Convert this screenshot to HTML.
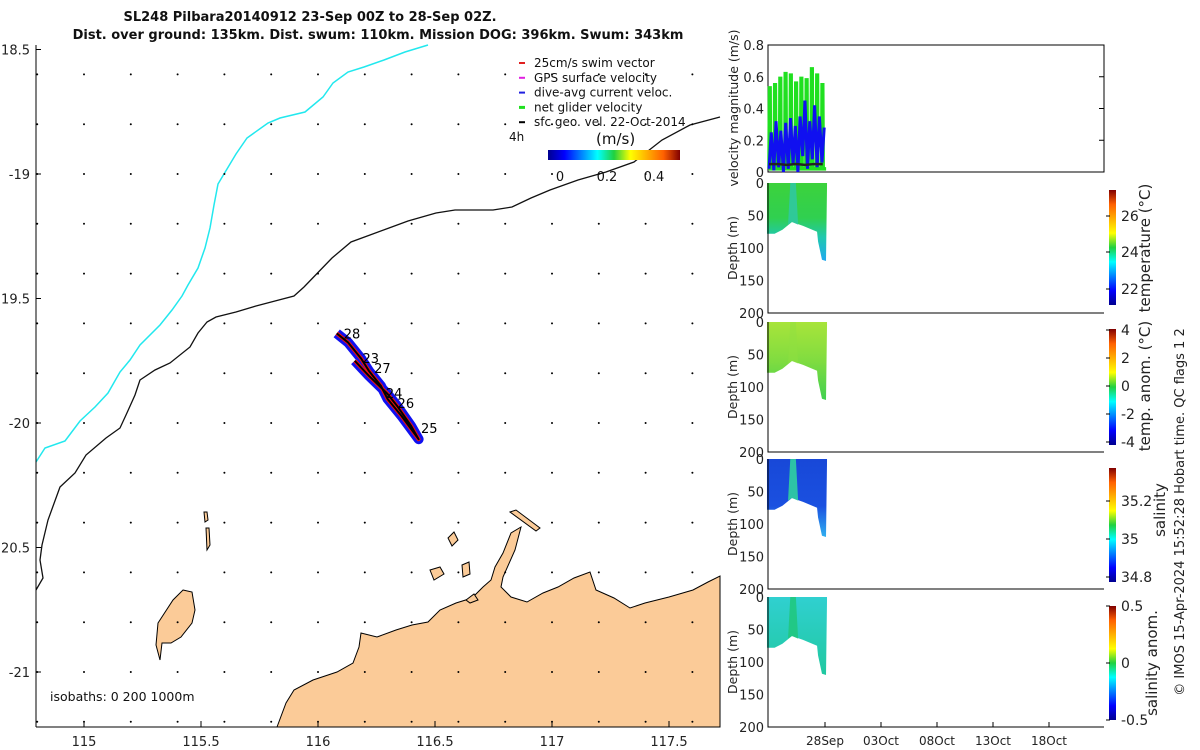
<!DOCTYPE html>
<html><head><meta charset="utf-8"><style>
html,body{margin:0;padding:0;background:#fff;}
svg{display:block;font-family:"DejaVu Sans","Liberation Sans",sans-serif;}
</style></head><body>
<svg id="fig" width="1200" height="750" viewBox="0 0 1200 750" xmlns="http://www.w3.org/2000/svg">
<defs>
<linearGradient id="jetV" x1="0" y1="1" x2="0" y2="0">
<stop offset="0" stop-color="#00008f"/><stop offset="0.125" stop-color="#0000ff"/><stop offset="0.375" stop-color="#00ffff"/><stop offset="0.5" stop-color="#20d040"/><stop offset="0.625" stop-color="#ffff00"/><stop offset="0.875" stop-color="#ff6000"/><stop offset="1" stop-color="#800000"/></linearGradient>
<linearGradient id="jetH" x1="0" y1="0" x2="1" y2="0">
<stop offset="0" stop-color="#00008f"/><stop offset="0.125" stop-color="#0000ff"/><stop offset="0.375" stop-color="#00ffff"/><stop offset="0.5" stop-color="#20d040"/><stop offset="0.625" stop-color="#ffff00"/><stop offset="0.875" stop-color="#ff6000"/><stop offset="1" stop-color="#800000"/></linearGradient>
<linearGradient id="gT" x1="0" y1="0" x2="0" y2="1"><stop offset="0" stop-color="#3cd23c"/><stop offset="0.45" stop-color="#30d050"/><stop offset="0.7" stop-color="#20c8b0"/><stop offset="1" stop-color="#20a8f0"/></linearGradient>
<linearGradient id="gTA" x1="0" y1="0" x2="0" y2="1"><stop offset="0" stop-color="#a8e43a"/><stop offset="0.5" stop-color="#80dc40"/><stop offset="1" stop-color="#40d050"/></linearGradient>
<linearGradient id="gS" x1="0" y1="0" x2="0" y2="1"><stop offset="0" stop-color="#1848d8"/><stop offset="0.6" stop-color="#1a50e0"/><stop offset="1" stop-color="#30b0f0"/></linearGradient>
<linearGradient id="gSA" x1="0" y1="0" x2="0" y2="1"><stop offset="0" stop-color="#30d0d0"/><stop offset="1" stop-color="#20c8a0"/></linearGradient>
</defs>
<g id="map"></g>
<g id="right"></g>
</svg>
<script>
// ---------- data ----------
const trackLon = [116.08,116.129,116.185,116.217,116.269,116.297,116.357,116.43,116.398,116.337,116.297,116.217,116.157];
const trackLat = [-19.64,-19.677,-19.742,-19.79,-19.851,-19.903,-19.972,-20.065,-20.012,-19.93,-19.883,-19.81,-19.75];
const dayLabels = ["28","23","27","24","26","25"];
const dayLabelLon = [116.11,116.19,116.24,116.29,116.34,116.44];
const dayLabelLat = [-19.66,-19.76,-19.8,-19.9,-19.94,-20.04];
const latTicks = [-18.5,-19,-19.5,-20,-20.5,-21];
const latTickLabels = ["18.5","-19","19.5","-20","20.5","-21"];
const lonTicks = [115,115.5,116,116.5,117,117.5];
const lonTickLabels = ["115","115.5","116","116.5","117","117.5"];
const netVelPeaks = [0.53,0.55,0.59,0.62,0.61,0.56,0.59,0.58,0.65,0.61,0.55];
const currentPeaks = [0.25,0.32,0.26,0.31,0.34,0.29,0.35,0.45,0.32,0.42,0.35,0.28];
const currentTroughs = [0.02,0.01,0.03,0.0,0.02,0.05,0.0,0.1,0.02,0.08,0.03,0.06];
const geoVel = [0.05,0.05,0.045,0.05,0.045,0.05,0.05];
const velTicks = [0,0.2,0.4,0.6,0.8];
const depthTicks = [0,50,100,150,200];
const dateTicks = [5,10,15,20,25];
const dateTickLabels = ["28Sep","03Oct","08Oct","13Oct","18Oct"];
const sectionDays = [-0.18,0.5,1.2,2.05,3.04,4.29,4.38,4.73,5.09,5.18];
const sectionBottom = [78,78,72,60,66,75,90,118,120,5];

const NS="http://www.w3.org/2000/svg";
function el(tag,attrs,parent){const e=document.createElementNS(NS,tag);for(const k in attrs)e.setAttribute(k,attrs[k]);parent.appendChild(e);return e;}
const map=document.getElementById('map'), right=document.getElementById('right'), fig=document.getElementById('fig');
const lonX=l=>84+(l-115)*234;
const latY=l=>423-(l+20)*249;

// title
let t=el('text',{x:310,y:21,'text-anchor':'middle','font-size':13,'font-weight':'bold',fill:'#111'},fig);
t.textContent="SL248 Pilbara20140912 23-Sep 00Z to 28-Sep 02Z.";

t=el('text',{x:378,y:39,'text-anchor':'middle','font-size':13,'font-weight':'bold',fill:'#111'},fig);
t.textContent="Dist. over ground: 135km. Dist. swum: 110km. Mission DOG: 396km. Swum: 343km";


// land
const landPts="277,727 286,703 294,690 313,680 337,672 353,663 359,647 361,633 377,637 396,630 412,625 428,622 440,610 456,603 472,598 483,587 491,580 495,567 503,553 511,533 521,527 515,550 503,577 501,587 511,597 527,602 543,593 558,587 574,578 590,572 596,590 614,598 630,608 645,603 669,597 693,590 708,582 720,576 720,727";
let p=el('polygon',{points:landPts,fill:'#fbcb98',stroke:'#000','stroke-width':1},map);

p=el('polygon',{points:"183,590 192,592 195,610 192,623 181,637 171,643 162,643 160,660 156,645 158,623 173,600",fill:'#fbcb98',stroke:'#000','stroke-width':1},map);

const isl=[["448,538 454,532 458,540 452,546","island-a"],["430,570 440,567 444,574 434,580","island-b"],["462,565 469,562 470,574 463,577","island-c"],["510,512 516,510 540,528 536,531","island-d"],["204,512 207,512 208,520 205,522","island-e"],["206,528 209,528 210,545 207,550","island-e2"],["466,600 474,594 478,600 470,603","island-f"]];
for(const [pts,n] of isl){p=el('polygon',{points:pts,fill:'#fbcb98',stroke:'#000','stroke-width':1},map);}

// isobaths
p=el('polyline',{points:"36,462 45,448 65,441 80,421 95,407 108,393 120,372 130,360 140,345 160,325 172,310 182,296 188,285 198,268 205,248 210,228 214,205 218,184 236,154 247,138 268,123 280,118 305,112 323,97 333,83 348,72 364,67 384,60 405,52 428,45",fill:'none',stroke:'#22e8ee','stroke-width':1.5},map);

p=el('polyline',{points:"36,590 43,578 40,560 42,545 48,520 60,487 75,473 86,455 106,438 120,428 126,415 135,395 140,380 155,370 170,363 190,347 198,333 207,322 216,317 236,312 256,306 275,301 294,296 304,287 332,258 351,242 370,235 389,228 408,221 436,213 455,210 493,210 512,207 531,198 550,190 578,180 606,172 634,162 662,140 690,125 720,117",fill:'none',stroke:'#111','stroke-width':1.3},map);


// vector dots
for(let k=-1;k<=13;k++){for(let j=0;j<=13;j++){const x=84+k*46.8, lat=-18.6-j*0.2, y=latY(lat);
 if(x<37||y>722)continue;
 const d=el('circle',{cx:x,cy:y,r:1,fill:'#000'},map);
 }}

// axes
let ax=el('line',{x1:36,y1:45,x2:36,y2:727,stroke:'#000','stroke-width':1},map);
ax=el('line',{x1:36,y1:727,x2:720,y2:727,stroke:'#000','stroke-width':1},map);
latTicks.forEach((v,i)=>{const y=latY(v);el('line',{x1:36,y1:y,x2:41,y2:y,stroke:'#000'},map);
 const tt=el('text',{x:30,y:y+5,'text-anchor':'end','font-size':13,fill:'#222'},map);tt.textContent=latTickLabels[i];
 });
lonTicks.forEach((v,i)=>{const x=lonX(v);el('line',{x1:x,y1:727,x2:x,y2:721,stroke:'#000'},map);
 const tt=el('text',{x:x,y:746,'text-anchor':'middle','font-size':13,fill:'#222'},map);tt.textContent=lonTickLabels[i];
 });
t=el('text',{x:50,y:701,'font-size':12.5,fill:'#111'},map);t.textContent="isobaths: 0   200  1000m";

// track
const tp=trackLon.map((l,i)=>lonX(l)+","+latY(trackLat[i])).join(" ");
p=el('polyline',{points:tp,fill:'none',stroke:'#1010f0','stroke-width':10,'stroke-linejoin':'round'},map);
p=el('polyline',{points:tp,fill:'none',stroke:'#f01010','stroke-width':4,'stroke-linejoin':'round'},map);
p=el('polyline',{points:tp,fill:'none',stroke:'#000','stroke-width':2,'stroke-linejoin':'round'},map);
dayLabels.forEach((s,i)=>{const tt=el('text',{x:lonX(dayLabelLon[i]),y:latY(dayLabelLat[i]),'font-size':13,fill:'#000'},map);tt.textContent=s;
 });

// legend
const legTxt=["25cm/s swim vector","GPS surface velocity","dive-avg current veloc.","net glider velocity","sfc geo. vel. 22-Oct-2014"];
const legCol=["#e02020","#e020e0","#2020e0","#20e020","#000"];
legTxt.forEach((s,i)=>{const y=67+i*14.8;
 const m=el('line',{x1:519,y1:y-4,x2:525,y2:y-4,stroke:legCol[i],'stroke-width':i==3?3:2},map);
 const tt=el('text',{x:534,y:y,'font-size':12,fill:'#111'},map);tt.textContent=s;});
t=el('text',{x:509,y:141,'font-size':12,fill:'#111'},map);t.textContent="4h";
t=el('text',{x:596,y:144,'font-size':15,fill:'#111'},map);t.textContent="(m/s)";
let cb=el('rect',{x:548,y:150,width:132,height:10,fill:'url(#jetH)'},map);
[["0",560],["0.2",607],["0.4",654]].forEach(([s,x])=>{const tt=el('text',{x:x,y:181,'font-size':13,'text-anchor':'middle',fill:'#111'},map);tt.textContent=s;});

// ---------- right panels ----------
const PX0=768, PX1=1104;
const dayX=d=>769+d*11.2;
const V0=172,V1=45; const velY=v=>V0-(v/0.8)*(V0-V1);
let r=el('rect',{x:PX0,y:V1,width:PX1-PX0,height:V0-V1,fill:'none',stroke:'#000'},right);
let pts=[];netVelPeaks.forEach((v,i)=>{const d=i*0.47;pts.push(dayX(d)+","+velY(0.02));pts.push(dayX(d+0.04)+","+velY(v));pts.push(dayX(d+0.1)+","+velY(v));pts.push(dayX(d+0.14)+","+velY(0.02));pts.push(dayX(d+0.4)+","+velY(0.02));});
p=el('polyline',{points:pts.join(" "),fill:'none',stroke:'#20e020','stroke-width':3.5},right);
pts=[];currentPeaks.forEach((v,i)=>{const d=i*0.43;pts.push(dayX(d)+","+velY(currentTroughs[i]));pts.push(dayX(d+0.2)+","+velY(v));});
p=el('polyline',{points:pts.join(" "),fill:'none',stroke:'#1010f0','stroke-width':3},right);
pts=geoVel.map((v,i)=>dayX(i*0.8)+","+velY(v));
p=el('polyline',{points:pts.join(" "),fill:'none',stroke:'#222','stroke-width':2.5},right);
velTicks.forEach(v=>{const y=velY(v);el('line',{x1:PX1,y1:y,x2:PX1-5,y2:y,stroke:'#000'},right);
 const tt=el('text',{x:764,y:y+5,'text-anchor':'end','font-size':13,fill:'#222'},right);tt.textContent=v==0?"0":String(v);
 });
t=el('text',{x:0,y:0,'font-size':12.5,'text-anchor':'middle',fill:'#222',transform:'translate(738,108) rotate(-90)'},right);t.textContent="velocity magnitude (m/s)";

const panels=[
 {top:183,fill:'url(#gT)',name:'temperature',cbTop:190,cbBot:305,ticks:[["26",216],["24",252],["22",289]],title:"temperature (°C)",tx:1150,ty:248},
 {top:322,fill:'url(#gTA)',name:'temp-anomaly',cbTop:329,cbBot:445,ticks:[["4",330],["2",358],["0",386],["-2",414],["-4",442]],title:"temp. anom. (°C)",tx:1150,ty:386},
 {top:459,fill:'url(#gS)',name:'salinity',cbTop:468,cbBot:582,ticks:[["35.2",501],["35",539],["34.8",577]],title:"salinity",tx:1165,ty:510},
 {top:597,fill:'url(#gSA)',name:'salinity-anomaly',cbTop:606,cbBot:720,ticks:[["0.5",606],["0",663],["-0.5",720]],title:"salinity anom.",tx:1157,ty:663}];
const stripCol=['#30c8a0','#90e040','#30d0a0','#20c880'];
panels.forEach((P,pi)=>{const dY=d=>P.top+d*0.65; const bot=P.top+130;
 const poly=[dayX(sectionDays[0])+","+dY(0)];
 sectionDays.forEach((d,i)=>poly.push(dayX(d)+","+dY(sectionBottom[i])));
 poly.push(dayX(sectionDays[sectionDays.length-1])+","+dY(0));
 let s=el('polygon',{points:poly.join(" "),fill:P.fill},right);
 s=el('polygon',{points:[dayX(1.9)+","+dY(0),dayX(2.4)+","+dY(0),dayX(2.6)+","+dY(64),dayX(2.05)+","+dY(60),dayX(1.7)+","+dY(64)].join(" "),fill:stripCol[pi],opacity:pi==1?0.5:0.9},right);
 
 let f=el('polyline',{points:`${PX0},${P.top} ${PX0},${bot} ${PX1},${bot}`,fill:'none',stroke:'#000'},right);
 depthTicks.forEach(v=>{const y=dY(v);const tt=el('text',{x:764,y:y+5,'text-anchor':'end','font-size':13,fill:'#222'},right);tt.textContent=String(v);});
 let a=el('text',{x:0,y:0,'font-size':12.5,'text-anchor':'middle',fill:'#222',transform:`translate(737,${dY(100)}) rotate(-90)`},right);a.textContent="Depth (m)";
 let c=el('rect',{x:1109,y:P.cbTop,width:7,height:P.cbBot-P.cbTop,fill:'url(#jetV)'},right);
 P.ticks.forEach(([s2,y])=>{el('line',{x1:1106,y1:y,x2:1110,y2:y,stroke:'#000'},right);const tt=el('text',{x:1121,y:y+5,'font-size':14,fill:'#222'},right);tt.textContent=s2;});
 a=el('text',{x:0,y:0,'font-size':15,'text-anchor':'middle',fill:'#222',transform:`translate(${P.tx},${P.ty}) rotate(-90)`},right);a.textContent=P.title;
});
dateTicks.forEach((d,i)=>{const x=dayX(d);el('line',{x1:x,y1:727,x2:x,y2:722,stroke:'#000'},right);
 const tt=el('text',{x:x,y:745,'text-anchor':'middle','font-size':12,fill:'#222'},right);tt.textContent=dateTickLabels[i];});
t=el('text',{x:0,y:0,'font-size':13,'text-anchor':'middle',fill:'#222',transform:'translate(1184,512) rotate(-90)'},right);t.textContent="© IMOS 15-Apr-2024 15:52:28 Hobart time. QC flags 1  2";
</script>
</body></html>
